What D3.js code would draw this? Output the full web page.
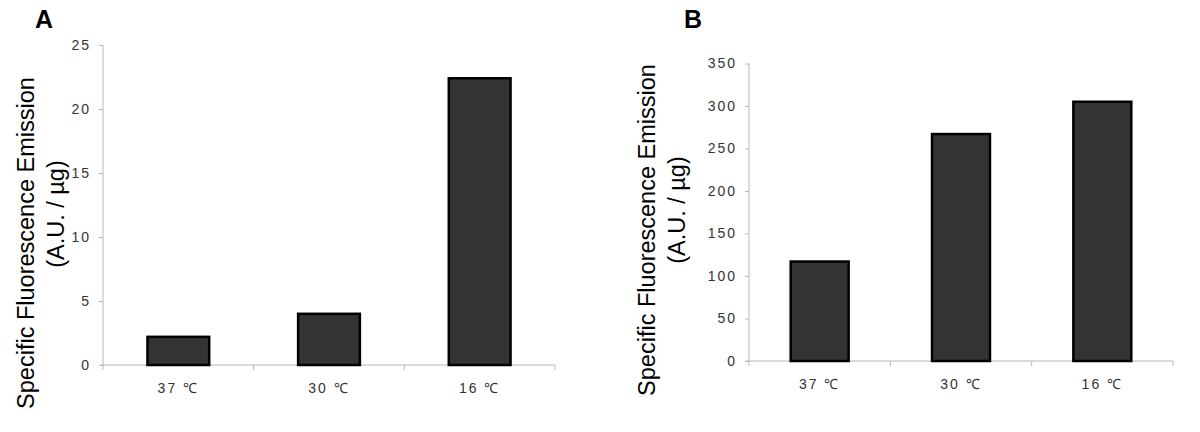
<!DOCTYPE html>
<html>
<head>
<meta charset="utf-8">
<script src="https://cdn.jsdelivr.net/npm/d3@7"></script>
<style>
  body { margin: 0; background: #fff; }
  svg { display: block; font-family: "Liberation Sans", Arial, sans-serif; }
</style>
</head>
<body>
<svg id="chart" width="1200" height="432"></svg>
<script>
// data
const categories = ["37 ℃", "30 ℃", "16 ℃"];
const valuesA = [2.2, 4.0, 22.4];
const valuesB = [117, 267, 305];
const ticksA = [0, 5, 10, 15, 20, 25];
const ticksB = [0, 50, 100, 150, 200, 250, 300, 350];

const svg = d3.select("#chart");

/* draw one panel */
const drawPanel = ({ letter, letterX, values, ticks, yMax, x0, x1, yTop, yBottom, labelX1, labelX2, labelY, labelY2 }) => {
  const g = svg.append("g");

  const y = d3.scaleLinear().domain([0, yMax]).range([yBottom, yTop]);
  const xSlot = d3.scaleBand().domain(categories).range([x0, x1]);
  const x = d3.scaleBand().domain(categories).range([x0, x1])
    .paddingInner(0.59).paddingOuter(0.295);

  // y axis
  const yAxis = g.append("g")
    .attr("transform", `translate(${x0},0)`)
    .call(d3.axisLeft(y).tickValues(ticks).tickSize(4).tickPadding(8));
  yAxis.select(".domain").attr("stroke", "#b8b8b8").attr("d", `M0,${yTop}V${yBottom}`);
  yAxis.selectAll(".tick line").attr("stroke", "#b8b8b8");
  yAxis.selectAll(".tick text")
    .attr("fill", "#333")
    .style("font-size", "14px")
    .style("letter-spacing", "2px");

  // x axis
  const xAxis = g.append("g").attr("transform", `translate(0,${yBottom})`);
  xAxis.append("line")
    .attr("x1", x0 - 3).attr("x2", x1)
    .attr("stroke", "#b8b8b8");
  const bounds = categories.map((c) => xSlot(c)).concat([x1]);
  xAxis.selectAll(".xt").data(bounds).join("line")
    .attr("x1", (d) => d).attr("x2", (d) => d)
    .attr("y1", 0).attr("y2", 5)
    .attr("stroke", "#b8b8b8");
  xAxis.selectAll(".xl").data(categories).join("text")
    .attr("x", (d) => xSlot(d) + xSlot.bandwidth() / 2)
    .attr("y", 28)
    .attr("text-anchor", "middle")
    .attr("fill", "#333")
    .style("font-size", "14px")
    .style("letter-spacing", "2px")
    .text((d) => d);

  // bars
  g.selectAll(".bar").data(values).join("rect")
    .attr("x", (d, i) => x(categories[i]))
    .attr("y", (d) => y(d))
    .attr("width", x.bandwidth())
    .attr("height", (d) => yBottom - y(d))
    .attr("fill", "#333")
    .attr("stroke", "#000")
    .attr("stroke-width", 2.5);

  // y title
  g.append("text")
    .attr("transform", `translate(${labelX1},${labelY}) rotate(-90)`)
    .attr("text-anchor", "middle")
    .style("font-size", "23.5px")
    .attr("fill", "#000")
    .text("Specific Fluorescence Emission");
  g.append("text")
    .attr("transform", `translate(${labelX2},${labelY2}) rotate(-90)`)
    .attr("text-anchor", "middle")
    .style("font-size", "23.5px")
    .attr("fill", "#000")
    .text("(A.U. / µg)");

  // panel letter
  svg.append("text")
    .attr("x", letterX).attr("y", 28)
    .style("font-size", "25px")
    .style("font-weight", "bold")
    .text(letter);
};

drawPanel({
  letter: "A", letterX: 35, values: valuesA, ticks: ticksA, yMax: 25,
  x0: 103, x1: 555, yTop: 45, yBottom: 365,
  labelX1: 34, labelX2: 64, labelY: 243, labelY2: 214,
});

drawPanel({
  letter: "B", letterX: 684, values: valuesB, ticks: ticksB, yMax: 350,
  x0: 749, x1: 1173, yTop: 63.5, yBottom: 361,
  labelX1: 655, labelX2: 685, labelY: 230, labelY2: 210,
});
</script>
</body>
</html>
